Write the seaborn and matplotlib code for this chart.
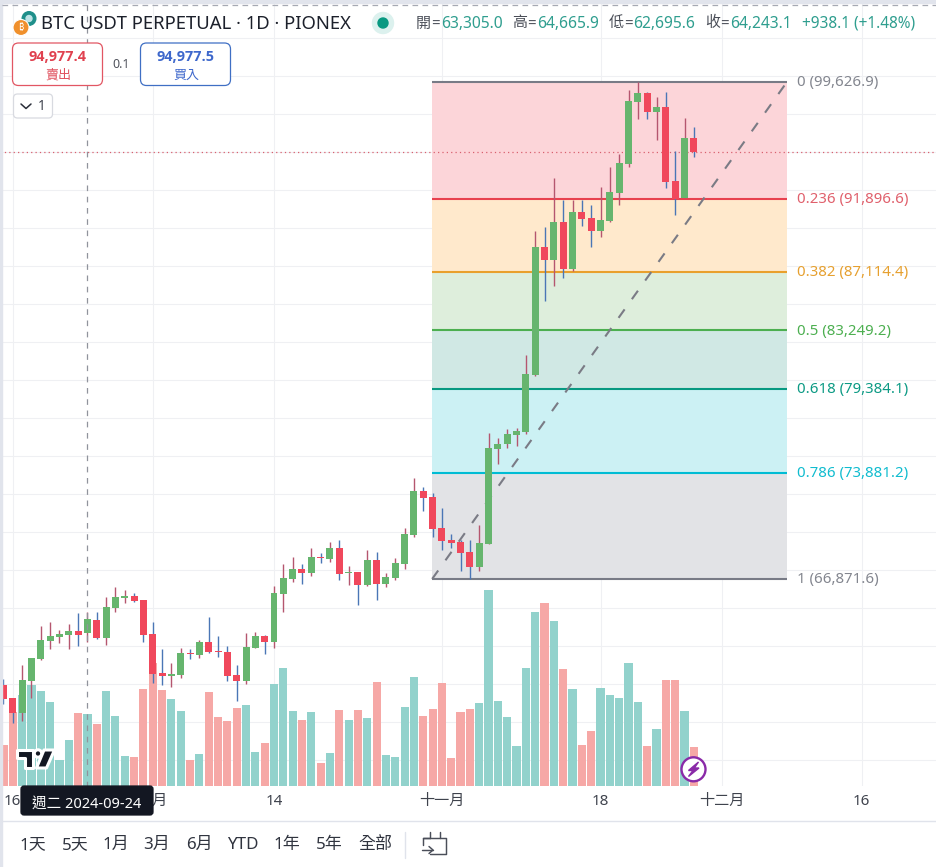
import numpy as np
import pandas as pd
import seaborn as sns
import matplotlib
matplotlib.use("Agg")
import matplotlib.pyplot as plt
from matplotlib.patches import Circle, FancyBboxPatch, Polygon, Rectangle

# Daily candles, 2024-09-15 to 2024-11-28
first_day = "2024-09-15"
opens = [59871, 59012, 58022, 60135, 61588, 62776, 63041, 63173, 63437, 63305.0, 64163, 62974, 64956, 65616, 65748, 65484,
         63239, 60663, 60465, 60531, 61984, 61852, 62710, 62116, 62050, 60531, 60135, 62314, 63107, 62710, 65880, 66871,
         67531, 67267, 68324, 68192, 68918, 67267, 67333, 66475, 68126, 66541, 66937, 67861, 69777, 72682, 72286,
         70239, 69446, 69314, 68654, 67663, 69182, 75456, 75786, 76381, 76579, 80277, 88730, 87872, 90381, 87277,
         91042, 90645, 89787, 90447, 92296, 94212, 98306, 98900, 97645, 97976, 93089, 91966, 95929]
closes = [58946, 58022, 60201, 61654, 62842, 63107, 63239, 63437, 63173, 64243.1, 62974, 65022, 65682, 65748, 65418, 63173,
          60597, 60465, 60597, 61984, 61918, 62710, 62050, 62050, 60465, 60135, 62380, 63107, 62710, 65946, 66937, 67531,
          67267, 68324, 68258, 68918, 67201, 67333, 66475, 68126, 66541, 67003, 67928, 69843, 72682, 72220, 70173,
          69381, 69248, 68588, 67663, 69248, 75522, 75786, 76447, 76645, 80343, 88730, 87872, 90381, 87277, 91042,
          90579, 89787, 90513, 92362, 94278, 98372, 98900, 97645, 97976, 93023, 91900, 95929, 95005]
highs = [60267, 59012, 61191, 61654, 63767, 64031, 63503, 63899, 64625, 64665.9, 64692, 65682, 66342, 66144, 65946, 65484,
         64031, 62248, 61323, 62314, 62248, 62842, 64361, 63107, 62446, 61191, 63305, 63371, 63173, 66408, 67861, 68324,
         67861, 68918, 68588, 69314, 69446, 67729, 67333, 68786, 68654, 67267, 68258, 70239, 73541, 72946, 72550,
         71560, 69843, 69446, 69446, 70437, 76513, 76183, 76777, 76843, 81598, 89787, 90051, 93287, 91834, 91834,
         91834, 91504, 92693, 94014, 94872, 99099, 99626.9, 98966, 98636, 98966, 95071, 97250, 96656]
lows = [58616, 57361, 57493, 59012, 61522, 62248, 62644, 62248, 62446, 62695.6, 62908, 62512, 64692, 65286, 65352, 62710,
        60003, 59871, 59739, 60333, 61588, 61654, 61984, 61720, 60135, 58814, 59937, 62314, 61918, 62314, 64692, 66673,
        66541, 67069, 67928, 67994, 66805, 66475, 65154, 66408, 65484, 66342, 66805, 67531, 69645, 71362, 69645,
        68786, 68918, 67399, 66871.6, 67399, 69182, 74465, 75522, 75654, 76447, 80211, 85164, 86155, 86683, 87145,
        90117, 88730, 89391, 90381, 91504, 94014, 97183, 97183, 95796, 92627, 90843, 91966, 94674]
volumes = [41, 74, 91, 101, 95, 84, 26, 46, 73, 72, 62, 95, 70, 30, 29, 97,
           123, 96, 87, 75, 26, 32, 94, 69, 65, 78, 81, 34, 43, 102, 118, 75,
           66, 74, 23, 33, 76, 66, 76, 68, 104, 31, 29, 79, 109, 70, 77,
           103, 28, 74, 77, 83, 196, 85, 69, 40, 118, 174, 183, 165, 117, 97,
           41, 55, 98, 91, 88, 123, 84, 40, 57, 106, 106, 75, 39]

# Fibonacci retracement drawn from the 1 Nov swing low to the 22 Nov high
fib_levels = ["0", "0.236", "0.382", "0.5", "0.618", "0.786", "1"]
fib_prices = [99626.9, 91896.6, 87114.4, 83249.2, 79384.1, 73881.2, 66871.6]
fib_lines = ["#787b86", "#e8414f", "#e9a02c", "#4caf50", "#089981", "#00bcd4", "#787b86"]
fib_text = ["#83868f", "#e0606c", "#e6a02f", "#4caf50", "#0c9a84", "#10bccf", "#83868f"]
fib_fill = ["#fcd5d9", "#ffe9cc", "#deeedc", "#d0e8e4", "#ccf1f4", "#e2e3e6"]

ask_price = "94,977.4"
bid_price = "94,977.5"
last_price = 94977.4
tick_days = [-8, 7, 20, 38, 55, 68, 83]
tick_names = ["16", "十月", "14", "十一月", "18", "十二月", "16"]
range_names = ["1天", "5天", "1月", "3月", "6月", "YTD", "1年", "5年", "全部"]
range_centers = [33, 75, 116, 157, 199, 243, 287, 329, 375]

UP, DOWN = "#66b56e", "#f0485c"
UP_VOL, DOWN_VOL = "#92d2cc", "#f6a8a6"
UP_WICK, DOWN_WICK = "#b5566f", "#4a76b6"
INK = "#131722"
TEAL = "#2f9e8f"

sns.set_theme(style="white")
plt.rcParams["font.family"] = ["Noto Sans", "Noto Sans CJK TC", "DejaVu Sans"]

W, H, CHART_H = 937, 867, 786
fig = plt.figure(figsize=(W / 100, H / 100), dpi=100, facecolor="white")
rect = [0, (H - CHART_H) / H, 1, CHART_H / H]

dates = pd.date_range(first_day, periods=len(opens))
frame = pd.DataFrame({"date": dates, "open": opens, "high": highs, "low": lows,
                      "close": closes, "volume": volumes})
frame["day"] = (frame["date"] - pd.Timestamp("2024-09-24")).dt.days
frame["side"] = np.where(frame["close"] >= frame["open"], "up", "down")
xlim = (-9.367, 91.06)
ylim = (53234, 105008)

# Volume pane sits behind the price layer and also carries the grid
ax_vol = fig.add_axes(rect, zorder=1)
sns.barplot(data=frame, x="day", y="volume", hue="side", dodge=False, native_scale=True,
            palette={"up": UP_VOL, "down": DOWN_VOL}, saturation=1, width=0.88, linewidth=0,
            legend=False, ax=ax_vol, zorder=2)
ax_vol.set_xlim(*xlim)
ax_vol.set_ylim(0, CHART_H)
ax_vol.set_xticks(tick_days, tick_names)
ax_vol.set_yticks(np.arange(26, CHART_H, 38))
ax_vol.tick_params(axis="x", length=0, pad=6, labelsize=10.9, labelcolor="#3f434d")
ax_vol.tick_params(axis="y", length=0, labelleft=False)
ax_vol.set_xlabel("")
ax_vol.set_ylabel("")
ax_vol.grid(True, color="#eff0f3", linewidth=0.75)
ax_vol.set_axisbelow(True)
sns.despine(ax=ax_vol, left=True, bottom=True)

# Price layer
ax = fig.add_axes(rect, zorder=2)
ax.patch.set_visible(False)
ax.set_xlim(*xlim)
ax.set_ylim(*ylim)
ax.axis("off")

fib_start, fib_end = 36.95, 75
for i in range(len(fib_fill)):
    ax.fill_between([fib_start, fib_end], fib_prices[i + 1], fib_prices[i],
                    color=fib_fill[i], linewidth=0, zorder=1)
for price, color in zip(fib_prices, fib_lines):
    ax.plot([fib_start, fib_end], [price, price], color=color, linewidth=1.5,
            solid_capstyle="butt", zorder=2)
sns.lineplot(x=[fib_start, fib_end], y=[fib_prices[-1], fib_prices[0]], color="#7a7b85",
             linewidth=1.5, linestyle=(0, (5, 6)), errorbar=None, ax=ax, zorder=3)
ax.set_xlim(*xlim)
ax.set_ylim(*ylim)
ax.set_xlabel("")
ax.set_ylabel("")
ax.axhline(last_price, color="#d9606f", linewidth=0.9, linestyle=(0, (1, 2.5)), zorder=3)

is_up = frame["side"] == "up"
ax.vlines(frame["day"], frame["low"], frame["high"],
          colors=np.where(is_up, UP_WICK, DOWN_WICK), linewidth=1.0, zorder=4)
body_low = frame[["open", "close"]].min(axis=1)
body_high = frame[["open", "close"]].max(axis=1)
ax.bar(frame["day"], np.maximum(body_high - body_low, 70), bottom=body_low, width=0.75,
       color=np.where(is_up, UP, DOWN), linewidth=0, zorder=5)

# Page furniture, laid out in pixel units on a transparent overlay
ui = fig.add_axes([0, 0, 1, 1], zorder=5)
ui.patch.set_visible(False)
ui.set_xlim(0, W)
ui.set_ylim(H, 0)
ui.axis("off")


def put(x, y, s, size, color=INK, ha="left", weight="normal", zorder=8, family=None):
    ui.text(x, y, s, fontsize=size * 0.72, color=color, ha=ha, va="center",
            fontweight=weight, zorder=zorder, family=family)


def box(x0, y0, x1, y1, edge, face="white", radius=6, lw=0.9, zorder=6):
    ui.add_patch(FancyBboxPatch((x0, y0), x1 - x0, y1 - y0,
                                boxstyle=f"round,pad=0,rounding_size={radius}",
                                facecolor=face, edgecolor=edge, linewidth=lw, zorder=zorder))


ui.add_patch(Rectangle((0, 0), W, 3, color="#e1e4ec", zorder=1))
ui.add_patch(Rectangle((0, 0), 2, H, color="#e1e4ec", zorder=1))
ui.plot([2, W], [5, 5], color="#a6a9b3", linewidth=0.9, linestyle=(0, (4.5, 3.5)), zorder=2)
ui.plot([87.4, 87.4], [5, CHART_H], color="#90939c", linewidth=0.9,
        linestyle=(0, (4.5, 4.5)), zorder=3)
ui.plot([2, W], [820.5, 820.5], color="#e0e3eb", linewidth=1, zorder=2)
ui.plot([405.5, 405.5], [832, 858], color="#e0e3eb", linewidth=1, zorder=2)

# Symbol legend
ui.add_patch(Circle((29, 18.5), 6.8, color="#1f8f8a", zorder=6))
ui.add_patch(Circle((29, 18.5), 3, color="#bfe3e6", zorder=7))
ui.add_patch(Circle((21, 27.5), 8, color="#f0902c", ec="white", lw=0.8, zorder=8))
put(21, 27.5, "₿", 9, "white", ha="center", zorder=9)
put(41, 24, "BTC USDT PERPETUAL · 1D · PIONEX", 18.5, "#1c202b")
ui.add_patch(Circle((383, 23), 10.5, color="#dcf1ee", zorder=6))
ui.add_patch(Circle((383, 23), 5, color="#089981", zorder=7))

ohlc_names = ["開=", "高=", "低=", "收="]
ohlc_name_x = [416, 512, 609, 705]
ohlc_values = ["63,305.0", "64,665.9", "62,695.6", "64,243.1"]
ohlc_value_x = [441, 537, 633, 730]
for name, nx, value, vx in zip(ohlc_names, ohlc_name_x, ohlc_values, ohlc_value_x):
    put(nx, 24, name[0], 15, "#4a4e58")
    put(nx + 15, 24, name[1], 15, "#4a4e58")
    put(vx, 24, value, 15.6, TEAL)
put(802, 24, "+938.1 (+1.48%)", 15.4, TEAL)

# Order buttons
box(12.5, 43, 102.5, 85.5, "#e25663")
put(58, 57, ask_price, 14.5, "#e0414f", ha="center", weight="bold", zorder=9, family="Open Sans")
put(58, 75, "賣出", 13, "#e0515e", ha="center", zorder=9)
put(121, 64, "0.1", 12.5, "#50535c", ha="center")
box(140.5, 43, 230.5, 85.5, "#3f6fc4")
put(186, 57, bid_price, 14.5, "#3e68cc", ha="center", weight="bold", zorder=9, family="Open Sans")
put(186, 75, "買入", 13, "#3e68cc", ha="center", zorder=9)
box(13.5, 94, 52.5, 118, "#d8dae0", radius=4)
ui.plot([21, 26, 31], [104, 108.5, 104], color="#2a2e39", linewidth=1.1, zorder=9)
put(42, 106, "1", 13.5, "#3a3e49", ha="center", zorder=9)

# Fibonacci level captions
for level, price, color, y in zip(fib_levels, fib_prices, fib_text,
                                  [82, 199, 272, 331, 389, 473, 579]):
    put(797, y + 0.5, f"{level} ({price:,.1f})", 15, color)

# Watermark logo
halo = dict(edgecolor="white", linewidth=2.2, facecolor=INK, zorder=7, joinstyle="round")
ui.add_patch(Polygon([(17, 750), (33.5, 750), (33.5, 768), (25, 768), (25, 758), (17, 758)], **halo))
ui.add_patch(Circle((38, 753.5), 3.7, **halo))
ui.add_patch(Polygon([(44, 750), (54.5, 750), (46.5, 768), (36.5, 768)], **halo))

# Lightning badge
ui.add_patch(Circle((693.5, 769.3), 12, facecolor="white", edgecolor="#8a2aa8", linewidth=1.7, zorder=7))
ui.add_patch(Polygon([(698.5, 762), (688.5, 770.5), (693, 770.5), (688.5, 776.5),
                      (699, 768), (694.3, 768)], color="#8a2aa8", zorder=8))

# Crosshair date tag
box(21, 786, 153, 815, INK, face=INK, radius=3, zorder=6)
put(87, 804, "週二 2024-09-24", 14.6, "white", ha="center", weight="medium", zorder=9)

# Range selector
for name, cx in zip(range_names, range_centers):
    put(cx, 845, name, 17, "#30343f", ha="center")
ink = dict(color="#4a4e59", linewidth=1.05, zorder=7)
ui.plot([430, 423, 423, 423], [837.5, 837.5, 837.5, 845], **ink)
ui.plot([423, 446, 446, 430], [837.5, 837.5, 854, 854], **ink)
ui.plot([430, 430], [832, 838], **ink)
ui.plot([440, 440], [832, 838], **ink)
ui.plot([422, 433], [850, 850], **ink)
ui.plot([429, 433, 429], [846.5, 850, 853.5], **ink)

fig.savefig("out.png", dpi=100)
